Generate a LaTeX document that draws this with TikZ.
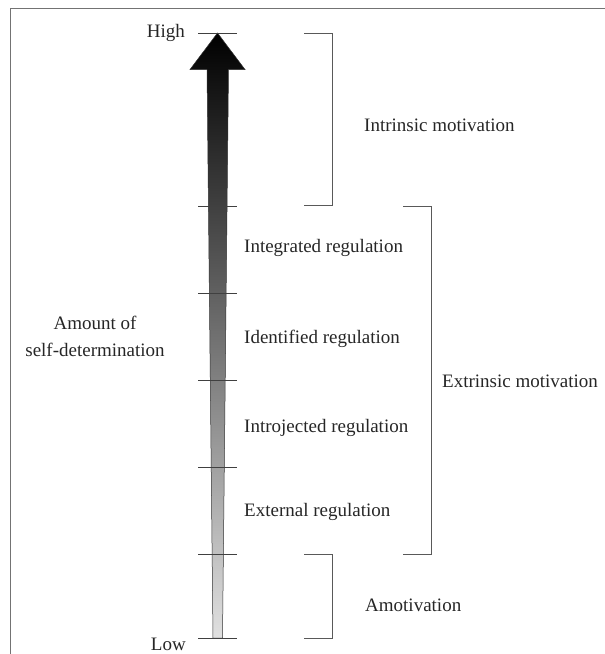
\documentclass[tikz,border=0pt]{standalone}
\usepackage{fontspec}
\setmainfont{Liberation Serif}
\begin{document}
\begin{tikzpicture}[x=1pt,y=-1pt,
  lbl/.style={font=\fontsize{19}{27}\selectfont, inner sep=0pt, text=black!85},
  tick/.style={draw=black!75, line width=0.8pt},
  brk/.style={draw=black!65, line width=0.9pt},
  frame/.style={draw=black!55, line width=1.3pt}]
\useasboundingbox (0,0) rectangle (605,654);
\draw[frame] (10.5,654) -- (10.5,8.5) -- (605,8.5);
% arrow
\shade[top color=black, bottom color=black!12, draw=black!80, line width=0.5pt]
  (217.5,33) -- (245,69.5) -- (228.5,69.5) -- (222.5,638) -- (213,638) -- (207,69.5) -- (190,69.5) -- cycle;
% ticks
\foreach \n/\y in {t0/33,t1/206,t2/293,t3/380,t4/467,t5/554,t6/638}{
  \coordinate (\n l) at (198,\y);
  \coordinate (\n r) at (237,\y);
  \draw[tick] (\n l) -- (\n r);
}
% brackets
\coordinate (a1) at (304,33.5); \coordinate (a2) at (332,33.5);
\coordinate (a3) at (332,205.5); \coordinate (a4) at (304,205.5);
\draw[brk] (a1) -- (a2) -- (a3) -- (a4);
\coordinate (b1) at (403,206.5); \coordinate (b2) at (431,206.5);
\coordinate (b3) at (431,554); \coordinate (b4) at (403,554);
\draw[brk] (b1) -- (b2) -- (b3) -- (b4);
\coordinate (c1) at (304,554.5); \coordinate (c2) at (332,554.5);
\coordinate (c3) at (332,638.5); \coordinate (c4) at (304,638.5);
\draw[brk] (c1) -- (c2) -- (c3) -- (c4);
% labels
\node[lbl, anchor=east] (high) at (185,33) {High};
\node[lbl, anchor=east] (low) at (186,644) {Low};
\node[lbl, align=center] (amount) at (95,336) {Amount of\\self-determination};
\node[lbl, anchor=west] (intr) at (364,125) {Intrinsic motivation};
\node[lbl, anchor=west] (integ) at (244,248) {Integrated regulation};
\node[lbl, anchor=west] (ident) at (244,339) {Identified regulation};
\node[lbl, anchor=west] (introj) at (244,428) {Introjected regulation};
\node[lbl, anchor=west] (ext) at (244,512) {External regulation};
\node[lbl, anchor=west] (extr) at (442,381) {Extrinsic motivation};
\node[lbl, anchor=west] (amot) at (365,605) {Amotivation};
\end{tikzpicture}
\end{document}
